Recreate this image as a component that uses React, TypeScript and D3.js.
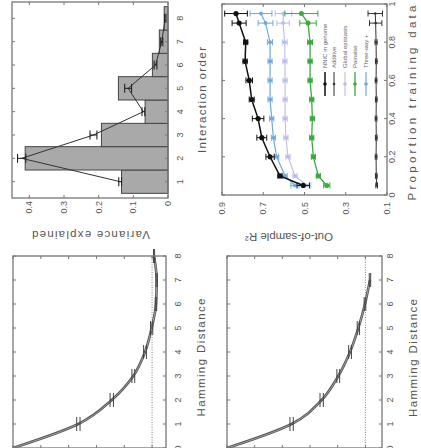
import React from "react";
import * as d3 from "d3";

// values (the figure is printed turned 90° CCW)
const hamming = [0, 1, 2, 3, 4, 5, 6, 7, 8];
const varByHamming = [1.0, 0.53, 0.29, 0.135, 0.051, 0.003, -0.028, -0.033, -0.014];
const varByHammingErr = [0, 0.012, 0.012, 0.01, 0.01, 0.008, 0.005, 0.004, 0.004];

const hammingR2 = [0, 1, 2, 3, 4, 5, 6, 7];
const r2ByHamming = [1.0, 0.533, 0.316, 0.196, 0.111, 0.051, 0.003, -0.033];
const r2ByHammingErr = [0, 0.012, 0.012, 0.01, 0.01, 0.008, 0.006, 0.005];

const orders = [1, 2, 3, 4, 5, 6, 7, 8];
const orderBars = [0.134, 0.412, 0.192, 0.066, 0.143, 0.045, 0.025, 0.011];
const orderLine = [0.138, 0.422, 0.215, 0.071, 0.115, 0.036, 0.018, 0.008];
const orderLineErr = [0.004, 0.012, 0.01, 0.004, 0.01, 0.004, 0.003, 0.002];

const props = [0.05, 0.1, 0.2, 0.3, 0.4, 0.5, 0.6, 0.7, 0.8, 0.9, 0.95];
const nnGenome = [0.506, 0.619, 0.667, 0.707, 0.725, 0.756, 0.768, 0.788, 0.785, 0.817, 0.832];
const nnGenomeErr = [0.03, 0.01, 0.02, 0.024, 0.028, 0.012, 0.016, 0.01, 0.01, 0.034, 0.055];
const additive = [0.15, 0.152, 0.153, 0.152, 0.153, 0.152, 0.153, 0.152, 0.153, 0.155, 0.157];
const additiveErr = [0.004, 0.004, 0.004, 0.004, 0.004, 0.004, 0.004, 0.004, 0.005, 0.03, 0.035];
const globalEp = [0.489, 0.546, 0.58, 0.59, 0.594, 0.594, 0.594, 0.595, 0.596, 0.604, 0.602];
const globalEpErr = [0.02, 0.01, 0.01, 0.01, 0.01, 0.01, 0.01, 0.01, 0.012, 0.03, 0.04];
const pairwise = [0.392, 0.433, 0.457, 0.465, 0.462, 0.465, 0.473, 0.473, 0.473, 0.483, 0.515];
const pairwiseErr = [0.015, 0.01, 0.01, 0.01, 0.01, 0.01, 0.01, 0.01, 0.012, 0.04, 0.08];
const threeWay = [0.546, 0.594, 0.635, 0.651, 0.659, 0.667, 0.667, 0.667, 0.667, 0.689, 0.711];
const threeWayErr = [0.02, 0.01, 0.01, 0.01, 0.01, 0.01, 0.01, 0.01, 0.012, 0.036, 0.053];

const orderTicks = [1, 2, 3, 4, 5, 6, 7, 8];
const hammingTicks = [0, 1, 2, 3, 4, 5, 6, 7, 8];
const hamYTicks = [0, 0.2, 0.4, 0.6, 0.8, 1];
const varTicks = [0, 0.1, 0.2, 0.3, 0.4];
const propTicks = [0, 0.2, 0.4, 0.6, 0.8, 1];
const r2Ticks = [0.1, 0.3, 0.5, 0.7, 0.9];

const FONT = "Liberation Sans, Arial, sans-serif";
const TXT = "#555";
const FRAME = "#777";

// panel boxes in unrotated coords (u to the right, v down)
const boxB = { u0: 0, u1: 192, v0: 13, v1: 166 };
const boxC = { u0: 0, u1: 192, v0: 227, v1: 382 };
const boxA = { u0: 250, u1: 446, v0: 12, v1: 168 };
const boxD = { u0: 253, u1: 444, v0: 222, v1: 387 };

type Box = { u0: number; u1: number; v0: number; v1: number };
type Sc = d3.ScaleLinear<number, number>;

function Frame({ b, x, y, xt, yt }: { b: Box; x: Sc; y: Sc; xt: number[]; yt: number[] }) {
  const t = 3;
  return (
    <g stroke={FRAME} strokeWidth={1} fill="none">
      <rect x={b.u0} y={b.v0} width={b.u1 - b.u0} height={b.v1 - b.v0} strokeWidth={1.3} />
      {xt.map((d) => (
        <g key={"x" + d}>
          <line x1={x(d)} x2={x(d)} y1={b.v1} y2={b.v1 - t} />
          <line x1={x(d)} x2={x(d)} y1={b.v0} y2={b.v0 + t} />
        </g>
      ))}
      {yt.map((d) => (
        <g key={"y" + d}>
          <line x1={b.u0} x2={b.u0 + t} y1={y(d)} y2={y(d)} />
          <line x1={b.u1} x2={b.u1 - t} y1={y(d)} y2={y(d)} />
        </g>
      ))}
    </g>
  );
}

function ErrBars({ xs, ys, es, x, y, cap, color, w }: any) {
  return (
    <g stroke={color} strokeWidth={w} fill="none">
      {xs.map((d: number, i: number) =>
        es[i] > 0 ? (
          <g key={i}>
            <line x1={x(d)} x2={x(d)} y1={y(ys[i] - es[i])} y2={y(ys[i] + es[i])} />
            <line x1={x(d) - cap} x2={x(d) + cap} y1={y(ys[i] - es[i])} y2={y(ys[i] - es[i])} />
            <line x1={x(d) - cap} x2={x(d) + cap} y1={y(ys[i] + es[i])} y2={y(ys[i] + es[i])} />
          </g>
        ) : null
      )}
    </g>
  );
}

function XLabels({ ticks, x, v, fmt }: { ticks: number[]; x: Sc; v: number; fmt?: (d: number) => string }) {
  return (
    <g fontFamily={FONT} fontSize={9} fill={TXT} textAnchor="middle">
      {ticks.map((d) => (
        <text key={d} x={x(d)} y={v} dominantBaseline="central">
          {fmt ? fmt(d) : String(d)}
        </text>
      ))}
    </g>
  );
}

function YLabels({ ticks, y, u }: { ticks: number[]; y: Sc; u: number }) {
  return (
    <g fontFamily={FONT} fontSize={9} fill={TXT} textAnchor="end">
      {ticks.map((d) => (
        <text key={d} x={u} y={y(d)} dominantBaseline="central">
          {String(d)}
        </text>
      ))}
    </g>
  );
}

function Label({ u, v, text, len, rot }: { u: number; v: number; text: string; len: number; rot?: boolean }) {
  return (
    <text
      x={u}
      y={v}
      transform={rot ? `rotate(-90,${u},${v})` : undefined}
      fontFamily={FONT}
      fontSize={11.5}
      fill={TXT}
      textAnchor="middle"
      dominantBaseline="central"
      textLength={len}
      lengthAdjust="spacing"
    >
      {text}
    </text>
  );
}

function HammingCurve({ xs, ys, es, x, y }: any) {
  const line = d3
    .line<number>()
    .x((d) => x(d))
    .y((_, i) => y(ys[i]))
    .curve(d3.curveMonotoneX);
  const p = line(xs) || "";
  return (
    <g>
      <path d={p} fill="none" stroke="#555" strokeWidth={2.6} />
      <path d={p} fill="none" stroke="#bbb" strokeWidth={0.7} />
      <ErrBars xs={xs} ys={ys} es={es} x={x} y={y} cap={7} color="#444" w={1} />
    </g>
  );
}

export default function App() {
  const xB = d3.scaleLinear().domain([0, 8]).range([boxB.u0, boxB.u1]);
  const yB = d3.scaleLinear().domain([-0.1, 1]).range([boxB.v1, boxB.v0]);
  const xC = d3.scaleLinear().domain([0, 8]).range([boxC.u0, boxC.u1]);
  const yC = d3.scaleLinear().domain([-0.12, 1]).range([boxC.v1, boxC.v0]);
  const xA = d3.scaleLinear().domain([0.3, 8.7]).range([boxA.u0, boxA.u1]);
  const yA = d3.scaleLinear().domain([0, 0.45]).range([boxA.v1, boxA.v0]);
  const xD = d3.scaleLinear().domain([0, 1]).range([boxD.u0, boxD.u1]);
  const yD = d3.scaleLinear().domain([0.1, 0.9]).range([boxD.v1, boxD.v0]);

  const barW = xA(1.5) - xA(0.5);
  const orderPath = d3
    .line<number>()
    .x((d) => xA(d))
    .y((_, i) => yA(orderLine[i]))(orders);

  const series = [
    { name: "NN/C in genome", ys: nnGenome, es: nnGenomeErr, color: "#111", r: 2.6, w: 1.5 },
    { name: "Additive", ys: additive, es: additiveErr, color: "#333", r: 1.3, w: 1 },
    { name: "Global epistasis", ys: globalEp, es: globalEpErr, color: "#bcbcec", r: 2, w: 1.1 },
    { name: "Pairwise", ys: pairwise, es: pairwiseErr, color: "#3aaa40", r: 2.5, w: 1.3 },
    { name: "Three-way +", ys: threeWay, es: threeWayErr, color: "#6fa9de", r: 2, w: 1.2 },
  ];
  const legendRows = [325, 334, 345, 355, 366];
  const drawOrder = [1, 2, 4, 3, 0];

  return (
    <svg width={421} height={448} style={{ position: "fixed", left: 0, top: 0, background: "#fff" }}>
      <rect width={421} height={448} fill="#fff" />
      <g transform="translate(0,448) rotate(-90)">
        {/* top-left: variance explained vs Hamming distance */}
        <line x1={xB(0)} x2={xB(8)} y1={yB(0)} y2={yB(0)} stroke="#666" strokeWidth={0.8} strokeDasharray="1,1.5" />
        <HammingCurve xs={hamming} ys={varByHamming} es={varByHammingErr} x={xB} y={yB} />
        <Frame b={boxB} x={xB} y={yB} xt={hammingTicks} yt={hamYTicks} />
        <XLabels ticks={hammingTicks} x={xB} v={178} />
        <Label u={90.5} v={201} text="Hamming Distance" len={118} />

        {/* bottom-left: out-of-sample R2 vs Hamming distance */}
        <line x1={xC(0)} x2={xC(8)} y1={yC(0)} y2={yC(0)} stroke="#666" strokeWidth={0.8} strokeDasharray="1,1.5" />
        <HammingCurve xs={hammingR2} ys={r2ByHamming} es={r2ByHammingErr} x={xC} y={yC} />
        <Frame b={boxC} x={xC} y={yC} xt={hammingTicks} yt={hamYTicks} />
        <XLabels ticks={hammingTicks} x={xC} v={390} />
        <Label u={90} v={413} text="Hamming Distance" len={118} />

        {/* top-right: variance explained by interaction order */}
        {orders.map((d, i) => (
          <rect
            key={d}
            x={xA(d) - barW / 2}
            y={yA(orderBars[i])}
            width={barW}
            height={yA(0) - yA(orderBars[i])}
            fill="#a9a9a9"
            stroke="#444"
            strokeWidth={1}
          />
        ))}
        <path d={orderPath || ""} fill="none" stroke="#333" strokeWidth={1} />
        <ErrBars xs={orders} ys={orderLine} es={orderLineErr} x={xA} y={yA} cap={4.5} color="#222" w={1.1} />
        <Frame b={boxA} x={xA} y={yA} xt={orderTicks} yt={varTicks} />
        <XLabels ticks={orderTicks} x={xA} v={180} />
        <YLabels ticks={varTicks} y={yA} u={247} />
        <Label u={348} v={202} text="Interaction order" len={106} />
        <Label u={213} v={91} text="Variance explained" len={118} rot />

        {/* bottom-right: out-of-sample R2 vs proportion training data */}
        {drawOrder.map((k) => {
          const s = series[k];
          const p = d3
            .line<number>()
            .x((d) => xD(d))
            .y((_, i) => yD(s.ys[i]))(props);
          return (
            <g key={s.name}>
              <path d={p || ""} fill="none" stroke={s.color} strokeWidth={s.w} />
              <ErrBars xs={props} ys={s.ys} es={s.es} x={xD} y={yD} cap={3} color={s.color} w={1} />
              {props.map((d, i) => (
                <circle key={i} cx={xD(d)} cy={yD(s.ys[i])} r={s.r} fill={s.color} />
              ))}
            </g>
          );
        })}
        <g fontFamily={FONT} fontSize={6} fill="#666">
          {series.map((s, i) => (
            <g key={s.name}>
              <line x1={352} x2={376} y1={legendRows[i]} y2={legendRows[i]} stroke={s.color} strokeWidth={s.w} />
              <circle cx={364} cy={legendRows[i]} r={Math.min(s.r, 1.8)} fill={s.color} />
              <text x={380} y={legendRows[i]} dominantBaseline="central">
                {s.name}
              </text>
            </g>
          ))}
        </g>
        <Frame b={boxD} x={xD} y={yD} xt={propTicks} yt={r2Ticks} />
        <XLabels ticks={propTicks} x={xD} v={392} />
        <YLabels ticks={r2Ticks} y={yD} u={246} />
        <Label u={345} v={412} text="Proportion training data" len={195} />
        <Label u={211} v={289} text="Out-of-sample R²" len={88} rot />
      </g>
    </svg>
  );
}
